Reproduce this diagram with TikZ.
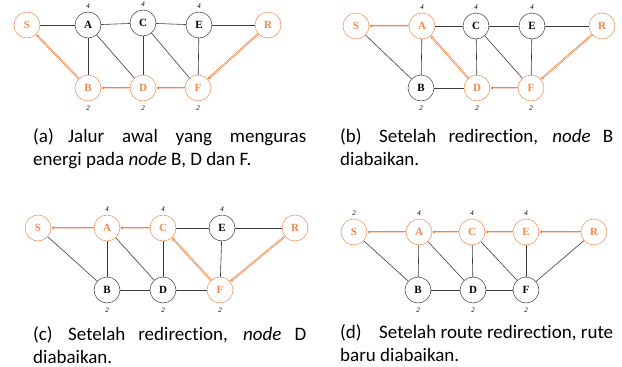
\documentclass[tikz,border=0pt]{standalone}
\usepackage{fontspec}
\setmainfont{Carlito}[Ligatures=NoCommon]
\newfontfamily\nodefont{Liberation Serif}
\usetikzlibrary{arrows.meta, positioning}
\hyphenpenalty=10000
\exhyphenpenalty=10000
\definecolor{hotorange}{RGB}{240,135,75}
\definecolor{edgegray}{RGB}{60,60,60}
\tikzstyle{vertex} = [circle, minimum size=26pt, inner sep=0pt, draw=edgegray, line width=0.5pt, font=\nodefont\bfseries\fontsize{11}{11}\selectfont]
\tikzstyle{hot} = [vertex, draw=hotorange, text=hotorange]
\tikzstyle{link} = [draw=edgegray, line width=0.6pt]
\tikzstyle{redir} = [draw=hotorange, double=hotorange!35, double distance=0.7pt, line width=0.6pt, <-, >={Stealth[length=3pt,width=3.5pt]}]
\tikzstyle{weight} = [inner sep=0pt, font=\nodefont\itshape\fontsize{7}{7}\selectfont]
\tikzstyle{caption} = [anchor=north west, inner sep=0pt, text width=273pt, align=justify, font=\fontsize{19}{23}\selectfont]

\begin{document}
\begin{tikzpicture}[x=1pt, y=-1pt]
\useasboundingbox (0,0) rectangle (622,367);

% (a) Initial route
\node (aS) [hot] at (27,25) {S};
\node (aA) [vertex] at (88,25) {A};
\node (aC) [vertex] at (143,23) {C};
\node (aE) [vertex] at (199,25) {E};
\node (aR) [hot] at (268,25) {R};
\node (aB) [hot] at (88,88) {B};
\node (aD) [hot] at (143,88) {D};
\node (aF) [hot] at (198,88) {F};
\foreach \n in {A,C,E} \node (wa\n) [weight, above=3pt of a\n] {4};
\foreach \n in {B,D,F} \node (wa\n) [weight, below=4pt of a\n] {2};
\foreach \u/\v in {S/A,A/C,C/E,E/R,A/B,A/D,C/D,C/F,E/F} \draw [link] (a\u) -- (a\v);
\foreach \u/\v in {S/B,B/D,D/F,F/R} \draw [redir] (a\u) -- (a\v);
\node (capa) [caption] at (33,128) {\hangindent=35pt\hangafter=1\makebox[35pt][l]{(a)}Jalur awal yang menguras energi pada \textit{node} B, D dan F.};

% (b) Node B skipped
\node (bS) [hot] at (356,26) {S};
\node (bA) [hot] at (422,26) {A};
\node (bC) [vertex] at (476,26) {C};
\node (bE) [vertex] at (532,26) {E};
\node (bR) [hot] at (602,26) {R};
\node (bB) [vertex] at (421,88) {B};
\node (bD) [hot] at (477,88) {D};
\node (bF) [hot] at (531,88) {F};
\foreach \n in {A,C,E} \node (wb\n) [weight, above=3pt of b\n] {4};
\foreach \n in {B,D,F} \node (wb\n) [weight, below=4pt of b\n] {2};
\foreach \u/\v in {A/C,C/E,E/R,S/B,A/B,B/D,C/D,C/F,E/F} \draw [link] (b\u) -- (b\v);
\foreach \u/\v in {S/A,A/D,D/F,F/R} \draw [redir] (b\u) -- (b\v);
\node (capb) [caption] at (340,128) {\hangindent=39pt\hangafter=1\makebox[39pt][l]{(b)}Setelah redirection, \textit{node} B diabaikan.};

% (c) Node D skipped
\node (cS) [hot] at (38,228) {S};
\node (cA) [hot] at (107,228) {A};
\node (cC) [hot] at (163,228) {C};
\node (cE) [vertex] at (222,228) {E};
\node (cR) [hot] at (295,228) {R};
\node (cB) [vertex] at (107,290) {B};
\node (cD) [vertex] at (163,290) {D};
\node (cF) [hot] at (220,290) {F};
\foreach \n in {A,C,E} \node (wc\n) [weight, above=3pt of c\n] {4};
\foreach \n in {B,D,F} \node (wc\n) [weight, below=4pt of c\n] {2};
\foreach \u/\v in {C/E,E/R,S/B,A/B,A/D,B/D,C/D,D/F,E/F} \draw [link] (c\u) -- (c\v);
\foreach \u/\v in {S/A,A/C,C/F,F/R} \draw [redir] (c\u) -- (c\v);
\node (capc) [caption] at (33,326) {\hangindent=35pt\hangafter=1\makebox[35pt][l]{(c)}Setelah redirection, \textit{node} D diabaikan.};

% (d) New route skipped
\node (dS) [hot] at (354,232) {S};
\node (dA) [hot] at (419,232) {A};
\node (dC) [hot] at (472,232) {C};
\node (dE) [hot] at (526,232) {E};
\node (dR) [hot] at (594,232) {R};
\node (dB) [vertex] at (418,290) {B};
\node (dD) [vertex] at (473,290) {D};
\node (dF) [vertex] at (526,290) {F};
\node (wdS) [weight, above=3pt of dS] {2};
\foreach \n in {A,C,E} \node (wd\n) [weight, above=3pt of d\n] {4};
\foreach \n in {B,D,F} \node (wd\n) [weight, below=4pt of d\n] {2};
\foreach \u/\v in {S/B,A/B,A/D,B/D,C/D,C/F,D/F,E/F,F/R} \draw [link] (d\u) -- (d\v);
\foreach \u/\v in {S/A,A/C,C/E,E/R} \draw [redir] (d\u) -- (d\v);
\node (capd) [caption] at (340,324) {\hangindent=39pt\hangafter=1\makebox[39pt][l]{(d)}Setelah route redirection, rute baru diabaikan.};

\end{tikzpicture}
\end{document}
